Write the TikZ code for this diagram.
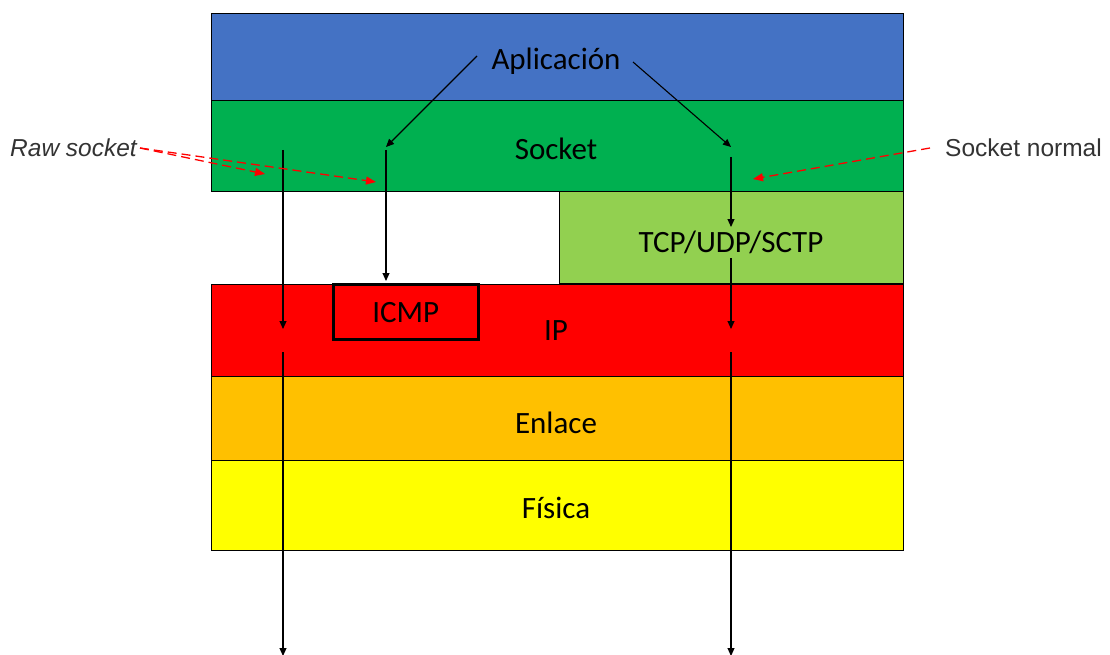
\documentclass[tikz,border=0pt]{standalone}
\usepackage{fontspec}
\setmainfont{Carlito}
\newfontfamily\arialfont{Liberation Sans}
\usetikzlibrary{arrows.meta}
\definecolor{cApp}{HTML}{4472C4}
\definecolor{cSock}{HTML}{00B050}
\definecolor{cTcp}{HTML}{92D050}
\definecolor{cIp}{HTML}{FF0000}
\definecolor{cLink}{HTML}{FFC000}
\definecolor{cPhy}{HTML}{FFFF00}
\begin{document}
\begin{tikzpicture}[x=1pt,y=-1pt,
  layer/.style={draw=black, line width=1.2pt, inner sep=0pt, anchor=north west},
  lbl/.style={inner sep=0pt, font=\fontsize{31}{35}\selectfont},
  side/.style={inner sep=0pt, font=\arialfont\fontsize{24.5}{28}\selectfont, text=black!80},
  flow/.style={draw=black, line width=1.1pt, -{Triangle[length=8pt,width=7pt]}},
  hint/.style={draw=red, line width=1.3pt, dash pattern=on 9pt off 5pt,
    -{Triangle[length=10pt,width=8pt]}}]
\useasboundingbox (0,0) rectangle (1110,655);
% layers
\node[layer, fill=cApp, minimum width=692pt, minimum height=87pt] (app) at (211,13) {};
\node[layer, fill=cSock, minimum width=692pt, minimum height=91pt] (sock) at (211,100) {};
\node[layer, fill=cTcp, minimum width=344pt, minimum height=92pt] (tcp) at (559,191) {};
\node[layer, fill=cIp, minimum width=692pt, minimum height=92pt] (ip) at (211,284) {};
\node[layer, fill=cLink, minimum width=692pt, minimum height=84pt] (link) at (211,376) {};
\node[layer, fill=cPhy, minimum width=692pt, minimum height=90pt] (phy) at (211,460) {};
\node[draw=black, line width=2.6pt, fill=cIp, minimum width=145pt, minimum height=55pt,
  inner sep=0pt, anchor=north west] (icmp) at (332,283) {};
% labels
\node[lbl] (aplic) at (556,61) {Aplicación};
\node[lbl] (socktxt) at (556,149) {Socket};
\node[lbl] (tcptxt) at (731,242) {TCP/UDP/SCTP};
\node[lbl] (icmptxt) at ([yshift=-1pt]icmp.center) {ICMP};
\node[lbl] (iptxt) at (556,331) {IP};
\node[lbl] (linktxt) at (556,423) {Enlace};
\node[lbl] (phytxt) at (556,508) {Física};
\node[side, anchor=west] (raw) at (10,148) {\itshape Raw socket};
\node[side, anchor=west] (normal) at (945,148) {Socket normal};
% coordinates for connectors
\coordinate (a1) at (477,56);
\coordinate (a2) at (633,62);
\coordinate (l1) at (283,150);
\coordinate (l2) at (283,329);
\coordinate (l3) at (283,352);
\coordinate (l4) at (283,656);
\coordinate (m1) at (386,150);
\coordinate (m2) at (386,147);
\coordinate (m3) at (386,281);
\coordinate (r0) at (731,147);
\coordinate (r1) at (731,157);
\coordinate (r2) at (731,227);
\coordinate (r3) at (731,258);
\coordinate (r4) at (731,329);
\coordinate (r5) at (731,352);
\coordinate (r6) at (731,656);
\coordinate (h1) at (140,148);
\coordinate (h2) at (265,174);
\coordinate (h3) at (376,182);
\coordinate (n1) at (930,148);
\coordinate (n2) at (753,179);
% black flows
\draw[flow] (a1) -- (m2);
\draw[flow] (a2) -- (r0);
\draw[flow] (l1) -- (l2);
\draw[flow] (l3) -- (l4);
\draw[flow] (m1) -- (m3);
\draw[flow] (r1) -- (r2);
\draw[flow] (r3) -- (r4);
\draw[flow] (r5) -- (r6);
% red hints
\draw[hint] (h1) -- (h2);
\draw[hint] (h1) -- (h3);
\draw[hint] (n1) -- (n2);
\end{tikzpicture}
\end{document}
